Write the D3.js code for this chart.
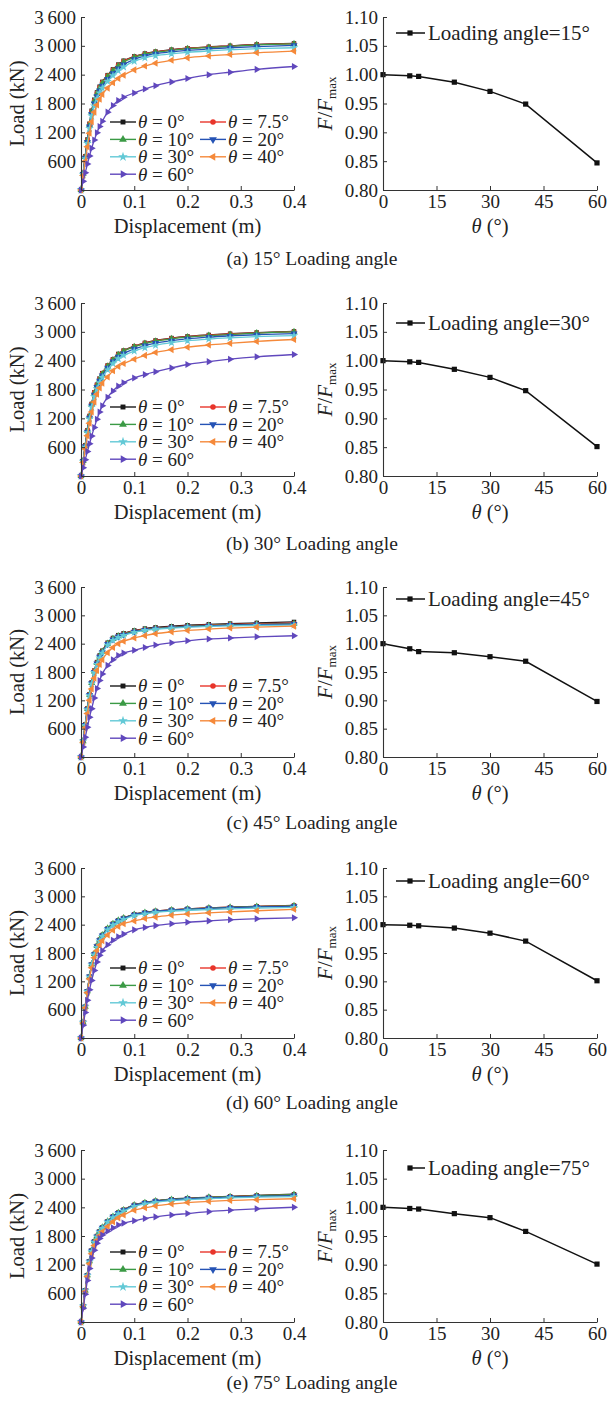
<!DOCTYPE html>
<html><head><meta charset="utf-8">
<script src="https://cdn.jsdelivr.net/npm/d3@7"></script>
<style>
body{margin:0;background:#fff}
svg text{font-family:"Liberation Serif","Times New Roman",serif;fill:#222;white-space:pre}
</style></head><body>
<svg id="chart" width="612" height="1402"></svg>
<script>
// ---------- DATA ----------
const thetaValues = [0, 7.5, 10, 20, 30, 40, 60];
const thetaLabels = ["0°", "7.5°", "10°", "20°", "30°", "40°", "60°"];
const loadingAngles = [15, 30, 45, 60, 75];
const captions = ["(a) 15° Loading angle", "(b) 30° Loading angle", "(c) 45° Loading angle", "(d) 60° Loading angle", "(e) 75° Loading angle"];
const loadTicks = [600, 1200, 1800, 2400, 3000, 3600];
const dispTicks = [0, 0.1, 0.2, 0.3, 0.4];
const ratioTicks = [0.80, 0.85, 0.90, 0.95, 1.00, 1.05, 1.10];
const thetaTicks = [0, 15, 30, 45, 60];

// displacement stations (m)
const displacement = [0, 0.004, 0.008, 0.012, 0.016, 0.02, 0.025, 0.03, 0.035, 0.04, 0.05, 0.06, 0.07, 0.08, 0.1, 0.12, 0.14, 0.17, 0.2, 0.24, 0.28, 0.33, 0.4];

// load (kN), series order: θ = 0, 7.5, 10, 20, 30, 40, 60
const load15 = [
 [0,350,700,1050,1380,1650,1880,2030,2150,2250,2390,2510,2610,2690,2780,2840,2880,2920,2950,2980,3000,3030,3050],
 [0,350,700,1040,1370,1640,1870,2020,2140,2240,2380,2500,2600,2680,2775,2835,2875,2915,2950,2975,2995,3025,3045],
 [0,340,690,1030,1360,1620,1850,2000,2120,2220,2360,2480,2580,2660,2760,2825,2865,2905,2940,2965,2990,3020,3040],
 [0,330,670,1000,1320,1580,1800,1950,2070,2170,2310,2430,2530,2610,2720,2790,2835,2875,2905,2935,2960,2985,3010],
 [0,320,650,970,1280,1540,1750,1900,2020,2120,2260,2380,2480,2560,2680,2750,2795,2835,2865,2895,2920,2940,2960],
 [0,300,600,900,1180,1420,1620,1770,1890,1990,2120,2230,2320,2390,2500,2580,2640,2700,2750,2790,2820,2855,2890],
 [0,180,360,540,710,870,1040,1190,1320,1430,1620,1760,1860,1930,2020,2100,2170,2250,2320,2400,2450,2510,2570]
];
const load30 = [
 [0,320,640,950,1250,1500,1740,1900,2030,2140,2300,2430,2540,2610,2700,2770,2820,2870,2905,2935,2960,2985,3010],
 [0,320,640,950,1250,1500,1740,1900,2030,2140,2300,2430,2535,2605,2700,2765,2815,2865,2900,2930,2955,2980,3005],
 [0,315,630,940,1240,1490,1720,1880,2010,2120,2280,2410,2520,2595,2690,2755,2805,2855,2890,2920,2945,2975,3000],
 [0,310,620,920,1210,1460,1690,1850,1980,2090,2250,2380,2480,2550,2645,2715,2765,2815,2855,2890,2915,2940,2964],
 [0,300,600,900,1190,1430,1650,1810,1940,2050,2210,2340,2440,2510,2600,2670,2720,2775,2815,2850,2875,2900,2922],
 [0,280,560,840,1100,1330,1540,1700,1830,1930,2060,2190,2280,2340,2430,2510,2570,2630,2680,2725,2760,2800,2840],
 [0,170,340,510,670,830,1010,1180,1330,1460,1640,1770,1870,1940,2040,2110,2170,2250,2320,2380,2430,2480,2528]
];
const load45 = [
 [0,340,690,1030,1330,1580,1830,2010,2150,2250,2420,2520,2580,2620,2680,2720,2745,2770,2790,2810,2825,2840,2860],
 [0,340,690,1030,1330,1580,1830,2000,2140,2240,2410,2510,2570,2610,2670,2705,2730,2755,2775,2795,2810,2822,2834],
 [0,335,680,1020,1320,1570,1810,1990,2130,2230,2400,2500,2560,2600,2660,2695,2720,2745,2765,2785,2800,2810,2820],
 [0,335,675,1010,1310,1560,1800,1980,2120,2220,2390,2490,2550,2590,2650,2690,2715,2740,2760,2778,2792,2803,2813],
 [0,335,670,1000,1300,1550,1790,1960,2100,2200,2370,2470,2530,2575,2640,2680,2705,2730,2750,2765,2778,2786,2793],
 [0,310,620,920,1200,1440,1670,1830,1960,2060,2210,2320,2400,2450,2520,2570,2610,2650,2680,2710,2730,2750,2771],
 [0,210,420,630,840,1024,1250,1450,1620,1760,1940,2060,2150,2200,2260,2320,2370,2420,2460,2500,2520,2545,2568]
];
const load60 = [
 [0,330,660,990,1300,1560,1780,1950,2080,2180,2320,2420,2490,2540,2620,2660,2690,2715,2735,2755,2770,2788,2806],
 [0,330,660,990,1300,1560,1780,1950,2080,2180,2320,2420,2490,2540,2618,2658,2688,2713,2733,2753,2768,2786,2804],
 [0,330,660,990,1300,1560,1780,1950,2080,2180,2320,2420,2490,2540,2615,2655,2685,2710,2730,2750,2765,2783,2800],
 [0,330,660,990,1300,1555,1775,1940,2070,2170,2310,2410,2480,2530,2610,2650,2680,2705,2725,2745,2760,2775,2788],
 [0,330,660,985,1290,1550,1760,1920,2050,2150,2290,2390,2460,2510,2590,2630,2660,2685,2705,2720,2735,2750,2765],
 [0,320,640,960,1250,1490,1700,1850,1970,2060,2180,2280,2360,2420,2480,2530,2560,2600,2625,2650,2670,2695,2725],
 [0,270,540,800,1020,1220,1430,1610,1750,1850,1975,2070,2145,2200,2290,2340,2380,2420,2450,2480,2505,2525,2545]
];
const load75 = [
 [0,330,660,980,1270,1500,1690,1800,1900,1980,2110,2210,2290,2350,2450,2500,2535,2570,2590,2615,2630,2650,2674],
 [0,330,660,980,1270,1500,1690,1800,1900,1980,2110,2210,2290,2350,2448,2498,2532,2566,2586,2610,2625,2645,2668],
 [0,330,660,980,1270,1500,1690,1800,1900,1980,2105,2205,2285,2345,2445,2495,2530,2564,2584,2607,2622,2642,2666],
 [0,330,660,975,1265,1490,1680,1790,1890,1970,2100,2200,2280,2340,2440,2490,2525,2555,2580,2600,2615,2630,2646],
 [0,330,655,970,1260,1480,1670,1780,1880,1960,2090,2185,2260,2320,2420,2470,2505,2540,2560,2580,2600,2612,2625],
 [0,320,640,950,1220,1430,1600,1710,1810,1890,2000,2100,2180,2240,2340,2390,2430,2470,2500,2525,2545,2560,2580],
 [0,290,580,870,1120,1337,1500,1650,1750,1820,1900,1970,2030,2070,2120,2165,2200,2240,2270,2310,2340,2370,2402]
];

// F/Fmax vs θ
const ratio15 = [1.000, 0.998, 0.997, 0.987, 0.971, 0.949, 0.847];
const ratio30 = [1.000, 0.998, 0.997, 0.985, 0.971, 0.948, 0.851];
const ratio45 = [1.000, 0.991, 0.986, 0.984, 0.977, 0.969, 0.898];
const ratio60 = [1.000, 0.999, 0.998, 0.994, 0.985, 0.971, 0.901];
const ratio75 = [1.000, 0.998, 0.997, 0.989, 0.982, 0.958, 0.901];

// ---------- STYLE / LAYOUT ----------
const loadPanels = [load15, load30, load45, load60, load75];
const ratioPanels = [ratio15, ratio30, ratio45, ratio60, ratio75];
const colors = ["#1a1a1a", "#e8352b", "#3b9a45", "#2553b5", "#62c9d6", "#f5893a", "#6048bd"];
const symTypes = [d3.symbolSquare, d3.symbolCircle, d3.symbolTriangle, d3.symbolTriangle, d3.symbolStar, d3.symbolTriangle, d3.symbolTriangle];
const symRot = [0, 0, 0, 180, 0, -90, 90];
const symSize = [22, 22, 24, 24, 26, 24, 24];
const leftRange = [81, 294];
const rightRange = [383, 597];
const rows = [
  {top: 17,   bottom: 190,  cap: 258,  legL: 105, legR: 16},
  {top: 303,  bottom: 476,  cap: 543,  legL: 104, legR: 20},
  {top: 587,  bottom: 757,  cap: 822,  legL: 99,  legR: 12},
  {top: 868,  bottom: 1038, cap: 1102, legL: 100, legR: 13},
  {top: 1150, bottom: 1322, cap: 1382, legL: 102, legR: 18}
];
const TICK_FS = 19, TITLE_FS = 20.5, LEG_FS = 19, RLEG_FS = 21, CAP_FS = 19.5;

const svg = d3.select("#chart");
const fmtLoad = d => { const s = String(d); return s.length > 3 ? s.slice(0, s.length - 3) + "\u2009" + s.slice(-3) : s; };

function marker(g, i, x, y, sizeScale) {
  g.append("path")
    .attr("d", d3.symbol(symTypes[i], symSize[i] * (sizeScale || 1))())
    .attr("transform", `translate(${x},${y}) rotate(${symRot[i]})`)
    .attr("fill", colors[i]);
}

function styleAxis(g) {
  g.select(".domain").attr("stroke", "#333").attr("stroke-width", 1.1);
  g.selectAll(".tick line").attr("stroke", "#333").attr("stroke-width", 1);
  g.selectAll(".tick text").attr("font-size", TICK_FS).attr("fill", "#222")
    .style("font-family", '"Liberation Serif","Times New Roman",serif');
}

rows.forEach((r, p) => {
  // ===== LEFT: load–displacement =====
  const x = d3.scaleLinear().domain([0, 0.4]).range(leftRange);
  const y = d3.scaleLinear().domain([0, 3600]).range([r.bottom, r.top]);
  const gL = svg.append("g");

  const line = d3.line().x(d => x(d[0])).y(d => y(d[1])).curve(d3.curveMonotoneX);
  loadPanels[p].forEach((series, i) => {
    const pts = displacement.map((d, k) => [d, series[k]]);
    gL.append("path").attr("d", line(pts)).attr("fill", "none")
      .attr("stroke", colors[i]).attr("stroke-width", 1.3);
    const mg = gL.append("g");
    pts.forEach(pt => marker(mg, i, x(pt[0]), y(pt[1]), 0.9));
  });

  const ax = gL.append("g").attr("transform", `translate(0,${r.bottom})`)
    .call(d3.axisBottom(x).tickValues(dispTicks).tickFormat(d => d === 0 ? "0" : d3.format(".1f")(d)).tickSize(-4).tickSizeOuter(0).tickPadding(5));
  styleAxis(ax);
  const ay = gL.append("g").attr("transform", `translate(${leftRange[0]},0)`)
    .call(d3.axisLeft(y).tickValues(loadTicks).tickFormat(fmtLoad).tickSize(-4).tickSizeOuter(0).tickPadding(5));
  styleAxis(ay);

  gL.append("text").attr("x", (leftRange[0] + leftRange[1]) / 2).attr("y", r.bottom + 43)
    .attr("text-anchor", "middle").attr("font-size", TITLE_FS).text("Displacement (m)");
  gL.append("text").attr("transform", `translate(17,${(r.top + r.bottom) / 2}) rotate(-90)`)
    .attr("text-anchor", "middle").attr("dy", "0.35em").attr("font-size", TITLE_FS).text("Load (kN)");

  // legend
  const lg = gL.append("g");
  const legPos = [[0, 0], [1, 0], [0, 1], [1, 1], [0, 2], [1, 2], [0, 3]];
  const colX = [110, 200];
  thetaLabels.forEach((lab, i) => {
    const cx = colX[legPos[i][0]];
    const cy = r.top + r.legL + legPos[i][1] * 17.4;
    lg.append("line").attr("x1", cx).attr("x2", cx + 26).attr("y1", cy).attr("y2", cy)
      .attr("stroke", colors[i]).attr("stroke-width", 1.4);
    marker(lg, i, cx + 13, cy, 1.1);
    const t = lg.append("text").attr("x", cx + 28).attr("y", cy).attr("dy", "0.34em").attr("font-size", LEG_FS);
    t.append("tspan").attr("font-style", "italic").text("θ");
    t.append("tspan").text(" = " + lab);
  });

  // ===== RIGHT: F/Fmax vs θ =====
  const xr = d3.scaleLinear().domain([0, 60]).range(rightRange);
  const yr = d3.scaleLinear().domain([0.80, 1.10]).range([r.bottom, r.top]);
  const gR = svg.append("g");
  const ratios = ratioPanels[p];
  const rline = d3.line().x((d, k) => xr(thetaValues[k])).y(d => yr(d));
  gR.append("path").attr("d", rline(ratios)).attr("fill", "none").attr("stroke", "#111").attr("stroke-width", 1.5);
  ratios.forEach((v, k) => {
    gR.append("rect").attr("x", xr(thetaValues[k]) - 2.6).attr("y", yr(v) - 2.6)
      .attr("width", 5.2).attr("height", 5.2).attr("fill", "#111");
  });

  const axr = gR.append("g").attr("transform", `translate(0,${r.bottom})`)
    .call(d3.axisBottom(xr).tickValues(thetaTicks).tickSize(-4).tickSizeOuter(0).tickPadding(5));
  styleAxis(axr);
  const ayr = gR.append("g").attr("transform", `translate(${rightRange[0]},0)`)
    .call(d3.axisLeft(yr).tickValues(ratioTicks).tickFormat(d3.format(".2f")).tickSize(-4).tickSizeOuter(0).tickPadding(5));
  styleAxis(ayr);

  const tx = gR.append("text").attr("x", (rightRange[0] + rightRange[1]) / 2).attr("y", r.bottom + 43)
    .attr("text-anchor", "middle").attr("font-size", TITLE_FS);
  tx.append("tspan").attr("font-style", "italic").text("θ");
  tx.append("tspan").text(" (°)");

  const ty = gR.append("text").attr("transform", `translate(326,${(r.top + r.bottom) / 2}) rotate(-90)`)
    .attr("text-anchor", "middle").attr("dy", "0.3em").attr("font-size", 21);
  ty.append("tspan").attr("font-style", "italic").text("F");
  ty.append("tspan").text("/");
  ty.append("tspan").attr("font-style", "italic").text("F");
  ty.append("tspan").attr("font-size", 13).attr("dy", 4).text("max");

  // legend
  const ly = r.top + r.legR;
  const lx1 = p === 4 ? 409 : 396;
  gR.append("line").attr("x1", lx1).attr("x2", 425).attr("y1", ly).attr("y2", ly).attr("stroke", "#111").attr("stroke-width", 1.5);
  gR.append("rect").attr("x", 410 - 2.6).attr("y", ly - 2.6).attr("width", 5.2).attr("height", 5.2).attr("fill", "#111");
  gR.append("text").attr("x", 428).attr("y", ly).attr("dy", "0.34em").attr("font-size", RLEG_FS)
    .text("Loading angle=" + loadingAngles[p] + "°");

  // caption
  svg.append("text").attr("x", 312).attr("y", r.cap).attr("dy", "0.34em").attr("text-anchor", "middle")
    .attr("font-size", CAP_FS).text(captions[p]);
});
</script>
</body></html>
